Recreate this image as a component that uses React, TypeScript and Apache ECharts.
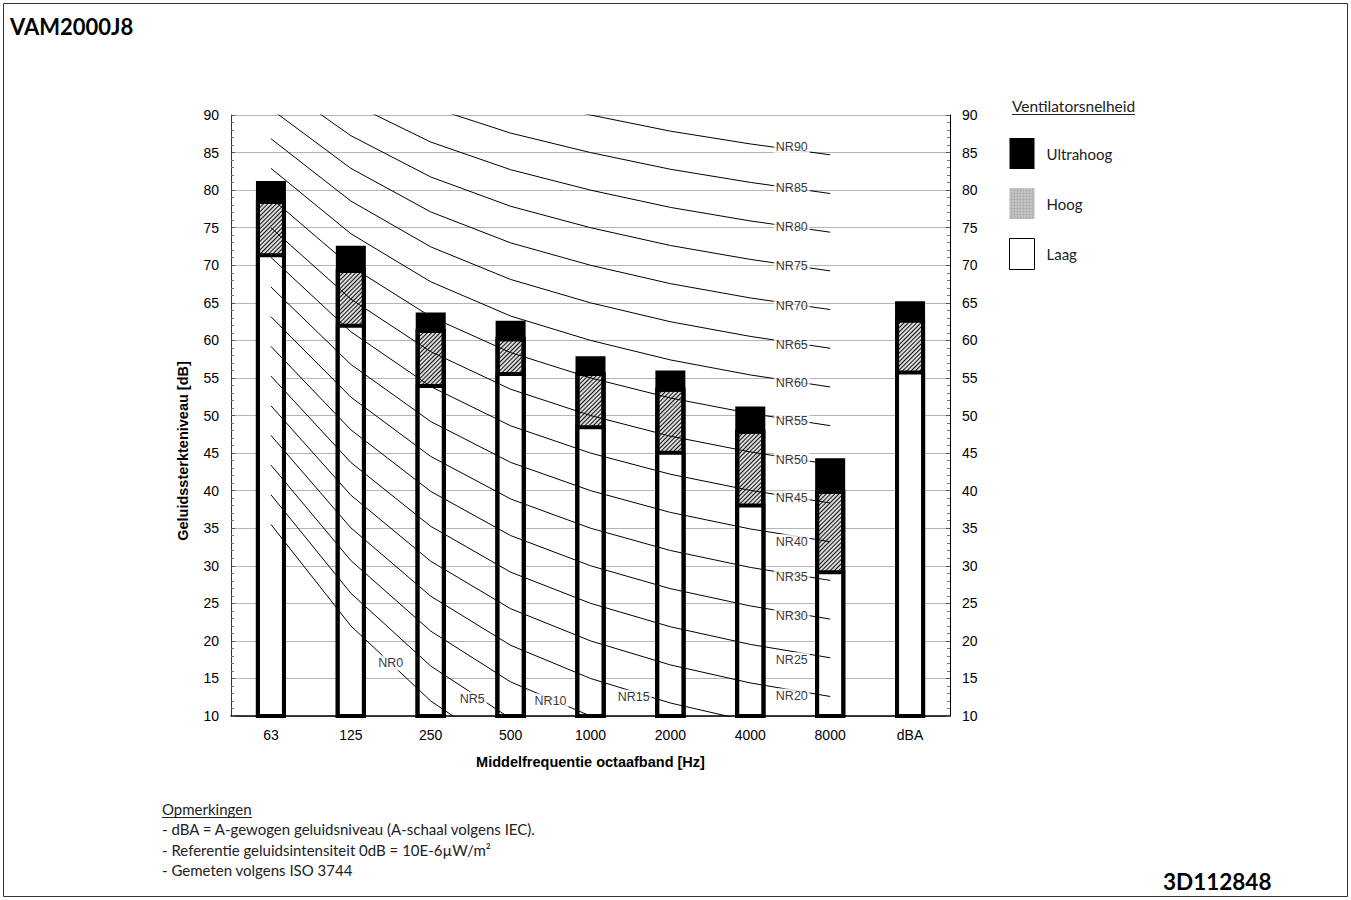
import React, { useEffect, useRef } from 'react';
import * as echarts from 'echarts';

const categories = ['63', '125', '250', '500', '1000', '2000', '4000', '8000', 'dBA'];
const laag = [71.6, 62.2, 54.2, 55.8, 48.7, 45.3, 38.3, 29.4, 56.0];
const hoog = [78.7, 69.5, 61.5, 60.4, 55.8, 53.7, 48.1, 40.1, 62.9];
const ultrahoog = [81.2, 72.6, 63.7, 62.6, 57.9, 56.0, 51.2, 44.3, 65.2];

// NR curves, values at 63 ... 8000 Hz
const nr0 = [35.5, 22.0, 12.0, 4.8, 0, -3.5, -6.1, -8.0];
const nr5 = [39.45, 26.35, 16.65, 9.67, 5, 1.58, -0.98, -2.85];
const nr10 = [43.4, 30.7, 21.3, 14.54, 10, 6.65, 4.15, 2.3];
const nr15 = [47.35, 35.05, 25.95, 19.41, 15, 11.73, 9.28, 7.45];
const nr20 = [51.3, 39.4, 30.6, 24.28, 20, 16.8, 14.4, 12.6];
const nr25 = [55.25, 43.75, 35.25, 29.15, 25, 21.88, 19.53, 17.75];
const nr30 = [59.2, 48.1, 39.9, 34.02, 30, 26.95, 24.65, 22.9];
const nr35 = [63.15, 52.45, 44.55, 38.89, 35, 32.03, 29.78, 28.05];
const nr40 = [67.1, 56.8, 49.2, 43.76, 40, 37.1, 34.9, 33.2];
const nr45 = [71.05, 61.15, 53.85, 48.63, 45, 42.18, 40.03, 38.35];
const nr50 = [75.0, 65.5, 58.5, 53.5, 50, 47.25, 45.15, 43.5];
const nr55 = [78.95, 69.85, 63.15, 58.37, 55, 52.33, 50.28, 48.65];
const nr60 = [82.9, 74.2, 67.8, 63.24, 60, 57.4, 55.4, 53.8];
const nr65 = [86.85, 78.55, 72.45, 68.11, 65, 62.48, 60.53, 58.95];
const nr70 = [90.8, 82.9, 77.1, 72.98, 70, 67.55, 65.65, 64.1];
const nr75 = [94.75, 87.25, 81.75, 77.85, 75, 72.63, 70.78, 69.25];
const nr80 = [98.7, 91.6, 86.4, 82.72, 80, 77.7, 75.9, 74.4];
const nr85 = [102.65, 95.95, 91.05, 87.59, 85, 82.78, 81.03, 79.55];
const nr90 = [106.6, 100.3, 95.7, 92.46, 90, 87.85, 86.15, 84.7];

const nrCurves = [nr0, nr5, nr10, nr15, nr20, nr25, nr30, nr35, nr40, nr45, nr50, nr55, nr60, nr65, nr70, nr75, nr80, nr85, nr90];
const nrNames = ['NR0', 'NR5', 'NR10', 'NR15', 'NR20', 'NR25', 'NR30', 'NR35', 'NR40', 'NR45', 'NR50', 'NR55', 'NR60', 'NR65', 'NR70', 'NR75', 'NR80', 'NR85', 'NR90'];
const nrLabelX = [1.5, 2.52, 3.5, 4.54, 6.52, 6.52, 6.52, 6.52, 6.52, 6.52, 6.52, 6.52, 6.52, 6.52, 6.52, 6.52, 6.52, 6.52, 6.52];
const nrLabelY = [17.05, 12.25, 12.0, 12.5, 12.65, 17.5, 23.3, 28.5, 33.2, 39.0, 44.1, 49.3, 54.3, 59.4, 64.6, 69.9, 75.1, 80.3, 85.7];

const notes = [
  '- dBA = A-gewogen geluidsniveau (A-schaal volgens IEC).',
  '- Referentie geluidsintensiteit 0dB = 10E-6\u00b5W/m\u00b2',
  '- Gemeten volgens ISO 3744',
];

const AX_FONT = '"Liberation Sans", Arial, sans-serif';
const TXT_FONT = 'Lato, "Open Sans", sans-serif';

export default function App() {
  const ref = useRef<HTMLDivElement>(null);
  useEffect(() => {
    const chart = echarts.init(ref.current!, null, { renderer: 'svg' });
    const barBase = {
      type: 'bar',
      xAxisIndex: 0,
      yAxisIndex: 0,
      barWidth: 30,
      barGap: '-100%',
      z: 2,
      silent: true,
    };
    const yBase = {
      type: 'value',
      min: 10,
      max: 90,
      interval: 5,
      axisLabel: { fontSize: 14, color: '#000', fontFamily: AX_FONT, margin: 12 },
      axisTick: { show: true, inside: true, length: 4, lineStyle: { color: '#555' } },
      minorTick: { show: true, splitNumber: 5, length: 3, lineStyle: { color: '#777' } },
    };
    const option = {
      animation: false,
      backgroundColor: '#fff',
      grid: { left: 231, right: 401, top: 115, bottom: 184, containLabel: false },
      legend: {
        orient: 'vertical',
        left: 1004,
        top: 133,
        itemWidth: 25,
        itemHeight: 31,
        itemGap: 19,
        icon: 'rect',
        selectedMode: false,
        textStyle: { fontSize: 15, fontFamily: TXT_FONT, color: '#222', padding: [0, 0, 10, 7] },
        data: [
          { name: 'Ultrahoog', itemStyle: { color: '#000', borderWidth: 0, decal: 'none' } },
          { name: 'Hoog', itemStyle: { color: '#b3b3b3', borderWidth: 0, decal: { symbol: 'rect', symbolSize: 1, dashArrayX: [1, 2], dashArrayY: [2, 1], color: '#d8d8d8' } } },
          { name: 'Laag', itemStyle: { color: '#fff', borderColor: '#000', borderWidth: 1, decal: 'none' } },
        ],
      },
      xAxis: [
        {
          type: 'category',
          data: categories,
          axisLine: { lineStyle: { color: '#000', width: 1.5 } },
          axisTick: { show: false },
          axisLabel: { fontSize: 14, color: '#000', fontFamily: AX_FONT, margin: 12 },
          name: 'Middelfrequentie octaafband [Hz]',
          nameLocation: 'middle',
          nameGap: 38,
          nameTextStyle: { fontSize: 14.5, fontWeight: 'bold', color: '#000', fontFamily: AX_FONT },
        },
        { type: 'value', min: -0.5, max: 8.5, show: false },
      ],
      yAxis: [
        {
          ...yBase,
          position: 'left',
          axisLine: { show: true, onZero: false, lineStyle: { color: '#333', width: 1 } },
          splitLine: { show: true, lineStyle: { color: '#b5b5b5', width: 1 } },
        },
        {
          ...yBase,
          position: 'right',
          axisLine: { show: true, onZero: false, lineStyle: { color: '#000', width: 1 } },
          splitLine: { show: false },
        },
      ],
      series: [
        { ...barBase, name: 'Ultrahoog', data: ultrahoog, itemStyle: { color: '#000', borderColor: '#000', borderWidth: 4 } },
        {
          ...barBase,
          name: 'Hoog',
          data: hoog,
          itemStyle: {
            color: '#dcdcdc',
            borderColor: '#000',
            borderWidth: 4,
            decal: { symbol: 'rect', symbolSize: 1, dashArrayX: [1, 0], dashArrayY: [1, 2], rotation: -Math.PI / 4, color: '#111' },
          },
        },
        { ...barBase, name: 'Laag', data: laag, itemStyle: { color: '#fff', borderColor: '#000', borderWidth: 4 } },
        ...nrCurves.map((vals, k) => ({
          type: 'line',
          name: nrNames[k],
          xAxisIndex: 1,
          yAxisIndex: 0,
          data: vals.map((v, i) => [i, v]),
          symbol: 'none',
          silent: true,
          clip: true,
          z: 3,
          lineStyle: { color: '#000', width: 1 },
        })),
        {
          type: 'scatter',
          name: 'labels',
          xAxisIndex: 1,
          yAxisIndex: 0,
          symbolSize: 1,
          silent: true,
          z: 4,
          itemStyle: { color: 'rgba(0,0,0,0)' },
          data: nrNames.map((n, k) => ({ name: n, value: [nrLabelX[k], nrLabelY[k]] })),
          label: {
            show: true,
            position: 'inside',
            formatter: '{b}',
            backgroundColor: '#fff',
            padding: [1, 2],
            fontSize: 12.5,
            fontFamily: AX_FONT,
            color: '#000',
          },
        },
      ],
      graphic: [
        { type: 'rect', shape: { x: 3.5, y: 3.5, width: 1344, height: 893 }, style: { fill: 'none', stroke: '#333', lineWidth: 1 }, silent: true },
        { type: 'text', x: 10, y: 26, style: { text: 'VAM2000J8', font: `bold 22px ${TXT_FONT}`, fill: '#000', verticalAlign: 'middle' } },
        { type: 'text', x: 1163, y: 881, style: { text: '3D112848', font: `bold 22.5px ${TXT_FONT}`, fill: '#000', verticalAlign: 'middle' } },
        {
          type: 'text',
          x: 183,
          y: 451,
          rotation: Math.PI / 2,
          style: { text: 'Geluidssterkteniveau [dB]', font: `bold 14.5px ${AX_FONT}`, fill: '#000', align: 'center', verticalAlign: 'middle' },
        },
        { type: 'text', x: 1012, y: 106, style: { text: 'Ventilatorsnelheid', font: `15.5px ${TXT_FONT}`, fill: '#222', verticalAlign: 'middle' } },
        { type: 'line', shape: { x1: 1012, y1: 114.5, x2: 1135, y2: 114.5 }, style: { stroke: '#222', lineWidth: 1 } },
        { type: 'text', x: 162, y: 809, style: { text: 'Opmerkingen', font: `15px ${TXT_FONT}`, fill: '#222', verticalAlign: 'middle' } },
        { type: 'line', shape: { x1: 162, y1: 817.5, x2: 252, y2: 817.5 }, style: { stroke: '#222', lineWidth: 1 } },
        ...notes.map((t, i) => ({
          type: 'text',
          x: 162,
          y: 829 + i * 20.5,
          style: { text: t, font: `15px ${TXT_FONT}`, fill: '#222', verticalAlign: 'middle' },
        })),
      ],
    };
    chart.setOption(option as any);
    return () => chart.dispose();
  }, []);
  return (
    <div
      ref={ref}
      style={{ position: 'fixed', left: 0, top: 0, width: 1351, height: 900, background: '#fff' }}
    />
  );
}
